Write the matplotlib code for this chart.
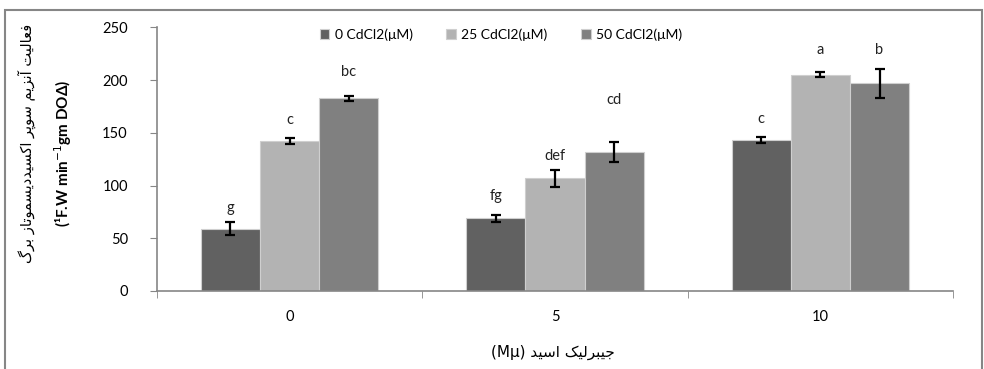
import matplotlib.pyplot as plt
import matplotlib
import numpy as np
from matplotlib.patches import Rectangle

matplotlib.rcParams['font.family'] = ['Lato', 'DejaVu Sans']
matplotlib.rcParams['font.size'] = 9.5

# --- data ---
categories = ['0', '5', '10']
series_names = ['0 CdCl2(μM)', '25 CdCl2(μM)', '50 CdCl2(μM)']
cd0 = [59, 69, 143]
cd0_err = [6, 3.5, 3]
cd25 = [142, 107, 205]
cd25_err = [2.8, 7.9, 2.4]
cd50 = [183, 132, 197]
cd50_err = [2.4, 9.5, 13.6]
letters_cd0 = ['g', 'fg', 'c']
letters_cd25 = ['c', 'def', 'a']
letters_cd50 = ['bc', 'cd', 'b']
letter_y_cd0 = [78.7, 90, 163]
letter_y_cd25 = [162, 128, 229]
letter_y_cd50 = [208, 181, 229]

colors = ['#616161', '#b3b3b3', '#808080']
gray = '#868686'

# Arabic presentation forms (iso, fin[, ini, med]) for shaping by hand
FORMS = {
    'ا': ('\uFE8D', '\uFE8E'), 'آ': ('\uFE81', '\uFE82'),
    'د': ('\uFEA9', '\uFEAA'), 'ر': ('\uFEAD', '\uFEAE'),
    'ز': ('\uFEAF', '\uFEB0'), 'و': ('\uFEED', '\uFEEE'),
    'ب': ('\uFE8F', '\uFE90', '\uFE91', '\uFE92'),
    'پ': ('\uFB56', '\uFB57', '\uFB58', '\uFB59'),
    'ت': ('\uFE95', '\uFE96', '\uFE97', '\uFE98'),
    'ج': ('\uFE9D', '\uFE9E', '\uFE9F', '\uFEA0'),
    'س': ('\uFEB1', '\uFEB2', '\uFEB3', '\uFEB4'),
    'ع': ('\uFEC9', '\uFECA', '\uFECB', '\uFECC'),
    'ف': ('\uFED1', '\uFED2', '\uFED3', '\uFED4'),
    'ک': ('\uFB8E', '\uFB8F', '\uFB90', '\uFB91'),
    'گ': ('\uFB92', '\uFB93', '\uFB94', '\uFB95'),
    'ل': ('\uFEDD', '\uFEDE', '\uFEDF', '\uFEE0'),
    'م': ('\uFEE1', '\uFEE2', '\uFEE3', '\uFEE4'),
    'ن': ('\uFEE5', '\uFEE6', '\uFEE7', '\uFEE8'),
    'ی': ('\uFBFC', '\uFBFD', '\uFBFE', '\uFBFF'),
}


def shape(text):
    out = []
    for i, ch in enumerate(text):
        f = FORMS.get(ch)
        if f is None:
            out.append(ch)
            continue
        prev = text[i - 1] if i > 0 else None
        nxt = text[i + 1] if i + 1 < len(text) else None
        jp = prev in FORMS and len(FORMS[prev]) == 4
        jn = len(f) == 4 and nxt in FORMS
        if jp and jn:
            out.append(f[3])
        elif jp:
            out.append(f[1])
        elif jn:
            out.append(f[2])
        else:
            out.append(f[0])
    return ''.join(out)[::-1]


fig = plt.figure(figsize=(9.84, 3.69), dpi=100)
ax = fig.add_axes([157 / 984, 1 - 291 / 369, 796 / 984, 263.5 / 369])

x = np.arange(len(categories))
w = 0.223
vals = [cd0, cd25, cd50]
errs = [cd0_err, cd25_err, cd50_err]
letters = [letters_cd0, letters_cd25, letters_cd50]
letter_ys = [letter_y_cd0, letter_y_cd25, letter_y_cd50]
for i in range(3):
    xs = x + (i - 1) * w
    ax.bar(xs, vals[i], w, color=colors[i], edgecolor='#cfcfcf', linewidth=0.8,
           label=series_names[i], zorder=2)
    ax.errorbar(xs, vals[i], yerr=errs[i], fmt='none', ecolor='black',
                elinewidth=1.6, capsize=3.5, capthick=1.6, zorder=3)
    for xx, yy, t in zip(xs, letter_ys[i], letters[i]):
        ax.text(xx, yy, t, ha='center', va='center', fontsize=10.5, color='#222222')

ax.set_xlim(-0.5, 2.5)
ax.set_ylim(0, 250)
ax.set_yticks(range(0, 251, 50))
ax.set_xticks(x)
ax.set_xticklabels(categories)
ax.set_xticks(np.arange(-0.5, 2.6, 1), minor=True)
ax.tick_params(axis='x', which='major', length=0, pad=14, labelsize=10.5)
ax.tick_params(axis='x', which='minor', length=5, color=gray, direction='out')
ax.tick_params(axis='y', length=5, color=gray, pad=16, labelsize=10.5)
for s in ['top', 'right']:
    ax.spines[s].set_visible(False)
for s in ['left', 'bottom']:
    ax.spines[s].set_color(gray)
    ax.spines[s].set_linewidth(1.2)

ax.legend(loc='upper left', bbox_to_anchor=(150 / 796, 1.045), ncol=3, frameon=False,
          handlelength=0.7, handleheight=0.7, handletextpad=0.4, columnspacing=2.4,
          fontsize=10)

# y label (two lines), x label
fig.text(27 / 984, 1 - 143 / 369, shape('فعالیت آنزیم سوپر اکسیددیسموتاز برگ'),
         rotation=90, ha='center', va='center', fontsize=10.5, family='DejaVu Sans')
fig.text(63 / 984, 1 - 153 / 369, '(¹F.W min$^{-1}$gm DOΔ)', rotation=90,
         ha='center', va='center', fontsize=11, fontweight='bold')
fig.text(553 / 984, 1 - 352 / 369, '(Mμ) ' + shape('جیبرلیک اسید'),
         ha='center', va='center', fontsize=11, family='DejaVu Sans')

# outer chart frame
fig.patches.append(Rectangle((5 / 984, -0.1), 977 / 984, 1.1 - 10 / 369,
                             transform=fig.transFigure, fill=False,
                             edgecolor=gray, linewidth=1.5))

fig.savefig('out.png', dpi=100)
